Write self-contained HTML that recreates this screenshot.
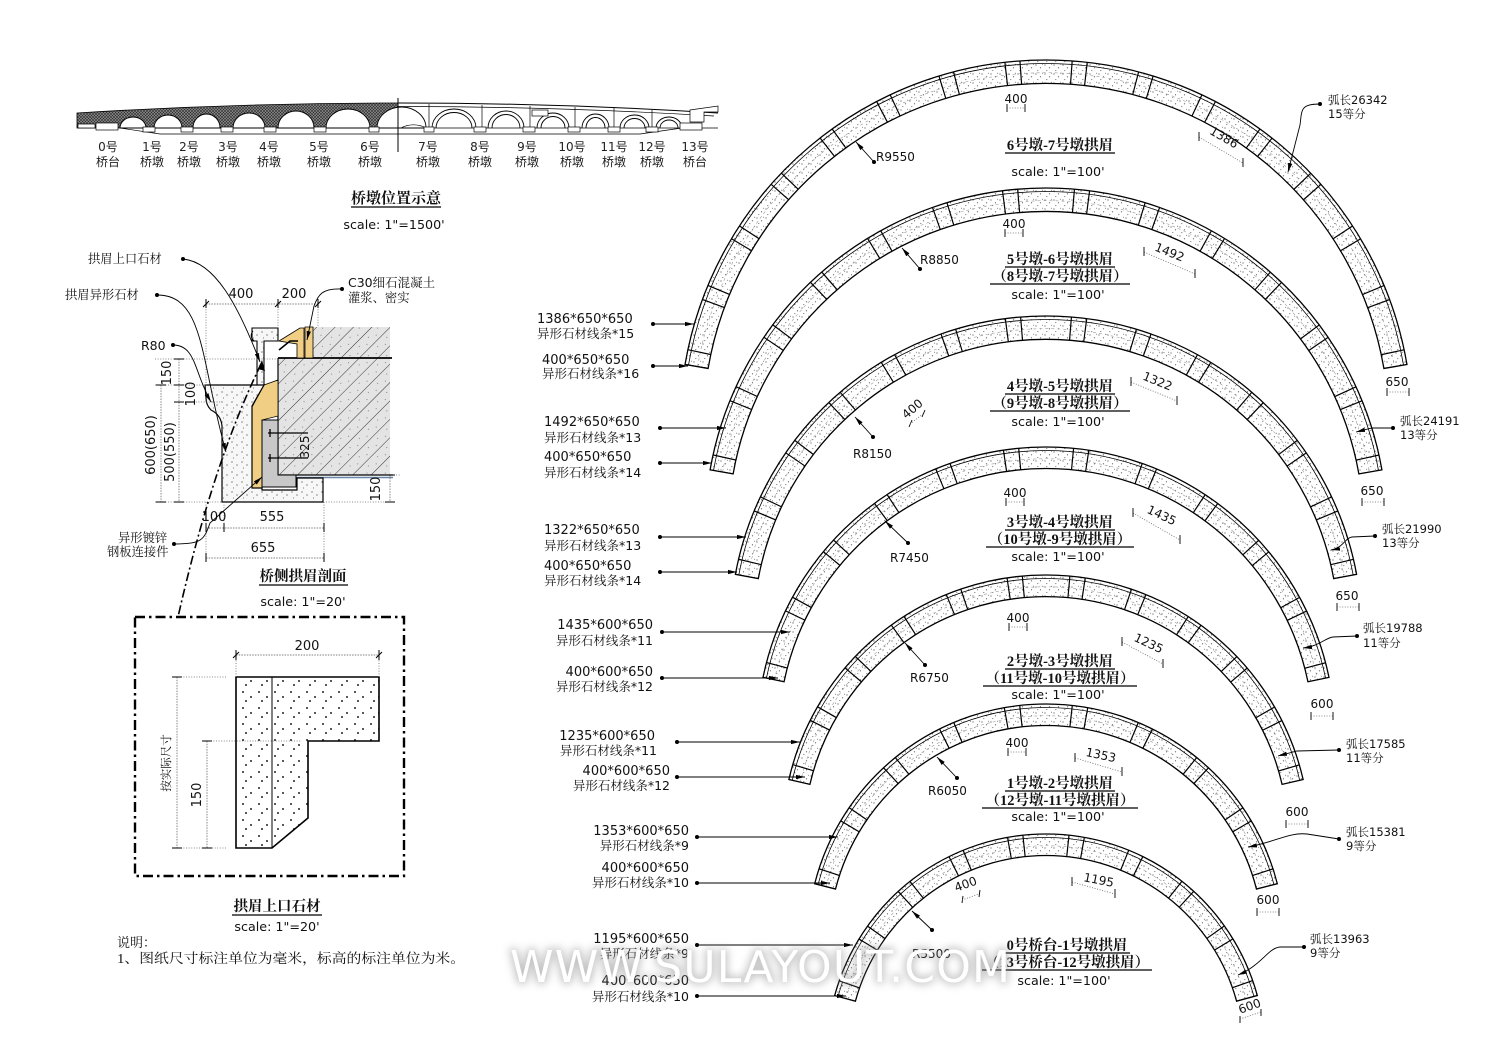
<!DOCTYPE html>
<html><head><meta charset="utf-8">
<style>
html,body{margin:0;padding:0;background:#fff;overflow:hidden;width:1500px;height:1061px}
svg{display:block}
.n{font-family:"DejaVu Sans","Noto Sans CJK SC",sans-serif;font-size:13px;fill:#111}
.c{font-family:"DejaVu Sans","Noto Serif CJK SC",serif;font-size:12.5px;fill:#111}
.s{font-family:"DejaVu Sans","Noto Sans CJK SC",sans-serif;font-size:12.7px;fill:#111}
.d{font-family:"DejaVu Sans","Noto Sans CJK SC",sans-serif;font-size:12px;fill:#111}
.r{font-family:"DejaVu Sans","Noto Serif CJK SC",serif;font-size:11.5px;fill:#111}
.t{font-family:"Liberation Serif","Noto Serif CJK SC",serif;font-weight:bold;font-size:14.5px;fill:#111}
.e{font-family:"DejaVu Sans","Noto Sans CJK SC",sans-serif;font-size:12px;fill:#222}
.l{font-family:"Liberation Serif","Noto Serif CJK SC",serif;font-size:12.3px;fill:#111}
.k{stroke:#000;fill:none}
.dt{stroke:#666;stroke-width:0.8;stroke-dasharray:1 1.6;fill:none}
.wm{font-family:"DejaVu Sans","Liberation Sans",sans-serif;font-size:44px}
</style></head>
<body>
<svg width="1500" height="1061" viewBox="0 0 1500 1061" xmlns="http://www.w3.org/2000/svg">
<defs>
<pattern id="dots" width="9" height="9" patternUnits="userSpaceOnUse">
<circle cx="1" cy="2" r="0.6" fill="#555"/><circle cx="5.5" cy="4.8" r="0.6" fill="#555"/><circle cx="2.8" cy="7.6" r="0.55" fill="#666"/><circle cx="7.6" cy="1.2" r="0.5" fill="#666"/>
</pattern>
<pattern id="sd" width="10" height="10" patternUnits="userSpaceOnUse">
<rect width="10" height="10" fill="#f7f7f7"/><circle cx="2" cy="2" r="0.6" fill="#444"/><circle cx="7" cy="5" r="0.6" fill="#444"/><circle cx="3.5" cy="8" r="0.5" fill="#555"/>
</pattern>
<pattern id="bd" width="16" height="16" patternUnits="userSpaceOnUse">
<circle cx="3" cy="4" r="1" fill="#222"/><circle cx="11" cy="9" r="1" fill="#222"/><circle cx="6" cy="13" r="1" fill="#222"/>
</pattern>
<pattern id="hatch" width="13" height="13" patternUnits="userSpaceOnUse" patternTransform="rotate(45)">
<rect width="13" height="13" fill="#e4e4e4"/><line x1="0" y1="0" x2="0" y2="13" stroke="#333" stroke-width="1"/><circle cx="5" cy="4" r="0.5" fill="#666"/><circle cx="9" cy="10" r="0.5" fill="#666"/>
</pattern>
<pattern id="xh" width="3" height="3" patternUnits="userSpaceOnUse">
<rect width="3" height="3" fill="#8c8c8c"/><path d="M0,0 L3,3 M3,0 L0,3" stroke="#2a2a2a" stroke-width="0.6"/>
</pattern>
<marker id="a" viewBox="0 0 10 10" refX="10" refY="5" markerWidth="9" markerHeight="9" markerUnits="userSpaceOnUse" orient="auto">
<path d="M0,2.6 L10,5 L0,7.4Z" fill="#000"/>
</marker>
<filter id="blur" x="-20%" y="-80%" width="140%" height="260%"><feGaussianBlur stdDeviation="4.5"/></filter>
<clipPath id="c1"><path d="M685.04,364.5 A366.2,366.2 0 0 1 1406.96,364.5 L1383.9,368.44 A342.8,342.8 0 0 0 708.1,368.44 Z"/></clipPath>
<clipPath id="c2"><path d="M710.08,469.87 A341.1,341.1 0 0 1 1381.92,469.87 L1358.87,473.93 A317.7,317.7 0 0 0 733.13,473.93 Z"/></clipPath>
<clipPath id="c3"><path d="M735.39,574.33 A315.9,315.9 0 0 1 1356.61,574.33 L1333.7,578.58 A292.6,292.6 0 0 0 758.3,578.58 Z"/></clipPath>
<clipPath id="c4"><path d="M763,677.39 A289,289 0 0 1 1329,677.39 L1307.94,681.75 A267.5,267.5 0 0 0 784.06,681.75 Z"/></clipPath>
<clipPath id="c5"><path d="M788.86,779.54 A263.9,263.9 0 0 1 1303.14,779.54 L1282.09,784.39 A242.3,242.3 0 0 0 809.91,784.39 Z"/></clipPath>
<clipPath id="c6"><path d="M814.69,883.74 A238.7,238.7 0 0 1 1277.31,883.74 L1256.47,889.05 A217.2,217.2 0 0 0 835.53,889.05 Z"/></clipPath>
<clipPath id="c7"><path d="M834.66,995.58 A219,219 0 0 1 1257.34,995.58 L1236.59,1001.22 A197.5,197.5 0 0 0 855.41,1001.22 Z"/></clipPath>
</defs>
<rect width="1500" height="1061" fill="#fff"/>

<!-- ================= ELEVATION ================= -->
<g>
<path d="M77,113 Q237.5,103 398,103 L398,128 L77,128 Z" fill="url(#xh)" stroke="#000" stroke-width="0.8"/>
<g fill="#fff" stroke="#000" stroke-width="0.9">
<path d="M120,128 A13,11 0 0 1 146,128Z"/>
<path d="M154,128 A14,13 0 0 1 182,128Z"/>
<path d="M193,128 A13.5,14 0 0 1 220,128Z"/>
<path d="M233,128 A16,15 0 0 1 265,128Z"/>
<path d="M278,128 A18,17 0 0 1 314,128Z"/>
<path d="M326,128 A22,19 0 0 1 370,128Z"/>
<path d="M377,128 A24.5,21 0 0 1 426,128Z"/>
</g>
<path d="M398,103 Q558.5,103 718,113" class="k" stroke-width="1"/>
<path d="M398,106.5 Q558.5,106.5 714,116" class="k" stroke-width="0.7"/>
<g class="k" stroke-width="0.9">
<path d="M432,128 A22,19 0 0 1 476,128"/><path d="M436,128 A18,15.5 0 0 1 472,128"/>
<path d="M488,128 A18,17 0 0 1 524,128"/><path d="M492,128 A14,13.5 0 0 1 520,128"/>
<path d="M537,128 A16,15 0 0 1 569,128"/><path d="M541,128 A12,11.5 0 0 1 565,128"/>
<path d="M582,128 A13.5,14 0 0 1 609,128"/><path d="M586,128 A9.5,10.5 0 0 1 605,128"/>
<path d="M620,128 A14.5,13 0 0 1 649,128"/><path d="M624,128 A10.5,9.5 0 0 1 645,128"/>
<path d="M656,128 A13,11 0 0 1 682,128"/><path d="M660,128 A9,8 0 0 1 678,128"/>
<path d="M401,128 A22,18 0 0 1 426,128" stroke-width="0.7"/>
</g>
<g stroke="#000" stroke-width="0.7">
<line x1="429" y1="104" x2="429" y2="128"/><line x1="482" y1="105" x2="482" y2="128"/><line x1="530" y1="106" x2="530" y2="128"/>
<line x1="575" y1="107" x2="575" y2="128"/><line x1="614" y1="108" x2="614" y2="128"/><line x1="652" y1="110" x2="652" y2="128"/>
<line x1="398" y1="98" x2="398" y2="152" stroke-width="1"/><line x1="392" y1="128" x2="404" y2="128"/>
<line x1="398" y1="128" x2="718" y2="128"/>
<path d="M120,128 L160,134 H640 L682,128" fill="none"/>
<rect x="532" y="110" width="16" height="6" fill="#fff"/>
<path d="M690,110 L718,106 V112 H704 V122 H690 Z" fill="#fff"/>
<path d="M78,124 H95 V128 H78 Z" fill="#fff"/>
</g>
<g fill="#fff" stroke="#000" stroke-width="0.7">
<rect x="96" y="123" width="22" height="7"/><rect x="143" y="127" width="12" height="5"/><rect x="181" y="127" width="12" height="5"/>
<rect x="221" y="127" width="12" height="5"/><rect x="264" y="127" width="12" height="5"/><rect x="314" y="127" width="12" height="5"/>
<rect x="369" y="127" width="10" height="5"/><rect x="424" y="127" width="10" height="5"/><rect x="474" y="127" width="12" height="5"/>
<rect x="523" y="127" width="12" height="5"/><rect x="568" y="127" width="12" height="5"/><rect x="608" y="127" width="12" height="5"/>
<rect x="646" y="127" width="12" height="5"/><rect x="680" y="123" width="22" height="7"/>
</g>
<g class="e" text-anchor="middle">
<text x="108" y="151">0号</text><text x="108" y="166">桥台</text>
<text x="152" y="151">1号</text><text x="152" y="166">桥墩</text>
<text x="189" y="151">2号</text><text x="189" y="166">桥墩</text>
<text x="228" y="151">3号</text><text x="228" y="166">桥墩</text>
<text x="269" y="151">4号</text><text x="269" y="166">桥墩</text>
<text x="319" y="151">5号</text><text x="319" y="166">桥墩</text>
<text x="370" y="151">6号</text><text x="370" y="166">桥墩</text>
<text x="428" y="151">7号</text><text x="428" y="166">桥墩</text>
<text x="480" y="151">8号</text><text x="480" y="166">桥墩</text>
<text x="527" y="151">9号</text><text x="527" y="166">桥墩</text>
<text x="572" y="151">10号</text><text x="572" y="166">桥墩</text>
<text x="614" y="151">11号</text><text x="614" y="166">桥墩</text>
<text x="652" y="151">12号</text><text x="652" y="166">桥墩</text>
<text x="695" y="151">13号</text><text x="695" y="166">桥台</text>
</g>
<text class="t" x="396" y="203" text-anchor="middle" style="font-size:15px">桥墩位置示意</text>
<line x1="351" y1="207" x2="441" y2="207" stroke="#000" stroke-width="1.2"/>
<text class="s" x="394" y="229" text-anchor="middle">scale: 1"=1500'</text>
</g>

<!-- ================= SECTION ================= -->
<g>
<path d="M312,327 H390 V358 H312 Z" fill="url(#hatch)"/>
<path d="M278,358 H390 V475 H278 Z" fill="url(#hatch)"/>
<path d="M278,358 H392" stroke="#000" stroke-width="1.8"/>
<path d="M278,358 V475 H393" class="k" stroke-width="1.2"/>
<path d="M282,477.5 H393" stroke="#6b86a8" stroke-width="1.6"/>
<path d="M279,341 L300,328 H304 V358 H297 V344 Z" fill="#f0cf85" stroke="#000" stroke-width="0.8"/>
<path d="M305,327 H313 V358 H305 Z" fill="#f0cf85" stroke="#000" stroke-width="0.8"/>
<path d="M252,328 H278 V341 H264 V385 H257 V341 H252 Z" fill="url(#sd)" stroke="#000" stroke-width="1.1"/>
<path d="M253,331 Q249,336 254,341" class="k" stroke-width="1"/>
<path d="M279,350 L290,341 H298" class="k" stroke-width="1.6"/>
<path d="M264,385 L278,380 V416 L262,420 V488 H252 V407 Z" fill="#f0cf85" stroke="#000" stroke-width="0.8"/>
<path d="M262,420 H278 V475 H296 V487 H262 Z" fill="#c8c8c8" stroke="#000" stroke-width="1"/>
<path d="M205,385 H264 L252,406 V488 H262 V490 H297 V478 H323 V502 H222 V426 Q221,415 211,410 Q206,405 206,398 Z" fill="url(#sd)" stroke="#000" stroke-width="1.2"/>
<g stroke="#000" stroke-width="1.3"><line x1="268" y1="433" x2="308" y2="433"/><line x1="268" y1="458" x2="308" y2="458"/>
<line x1="270" y1="429" x2="270" y2="437"/><line x1="270" y1="454" x2="270" y2="462"/></g>
<text class="d" transform="translate(309,447) rotate(-90)" text-anchor="middle">325</text>
<g>
<path d="M206,304 V385 M278,304 V327 M318,304 V327 M155,359 H278 M155,385 H206 M175,402 H222 M155,502 H222 M206,502 V562 M224,502 V531 M324,502 V562 M326,502 H396 M396,475 H400" class="dt"/>
<path d="M206,304 H318 M161,385 V502 M179,359 V502 M206,528 H324 M206,558 H324 M390,475 V502" stroke="#555" stroke-width="0.7" fill="none" stroke-dasharray="1.5 1.2"/>
<g stroke="#000" stroke-width="1">
<path d="M206,299 v9 M278,299 v9 M318,299 v9 M203,307 l6,-6 M275,307 l6,-6 M315,307 l6,-6"/>
<path d="M156,385 h10 M156,502 h10 M174,359 h10 M174,385 h10 M174,402 h10 M174,502 h10"/>
<path d="M206,523 v9 M224,523 v9 M324,523 v9 M206,553 v9 M324,553 v9 M385,475 h10 M385,502 h10"/>
</g>
<text class="n" x="241" y="298" text-anchor="middle">400</text>
<text class="n" x="294" y="298" text-anchor="middle">200</text>
<text class="n" transform="translate(171,373) rotate(-90)" text-anchor="middle">150</text>
<text class="n" transform="translate(195,394) rotate(-90)" text-anchor="middle">100</text>
<text class="n" transform="translate(155,445) rotate(-90)" text-anchor="middle">600(650)</text>
<text class="n" transform="translate(174,452) rotate(-90)" text-anchor="middle">500(550)</text>
<text class="n" transform="translate(380,489) rotate(-90)" text-anchor="middle">150</text>
<text class="n" x="214" y="521" text-anchor="middle">100</text>
<text class="n" x="272" y="521" text-anchor="middle">555</text>
<text class="n" x="263" y="552" text-anchor="middle">655</text>
</g>
<g class="k" stroke-width="0.9">
<path d="M183,259 C215,262 238,305 260,362" marker-end="url(#a)"/>
<path d="M157,295 C205,295 200,360 226,452" marker-end="url(#a)"/>
<path d="M173,345 C196,345 194,372 211,402" marker-end="url(#a)"/>
<path d="M342,289 C322,288 318,295 314,306 L307,340" marker-end="url(#a)"/>
<path d="M174,544 C202,544 204,540 210,523 L262,477" marker-end="url(#a)"/>
</g>
<g fill="#000"><circle cx="183" cy="259" r="2"/><circle cx="157" cy="295" r="2"/><circle cx="173" cy="345" r="2"/><circle cx="342" cy="289" r="2"/><circle cx="174" cy="544" r="2"/></g>
<g class="l">
<text x="88" y="263">拱眉上口石材</text>
<text x="65" y="299">拱眉异形石材</text>
<text class="n" x="141" y="350" style="font-size:12.5px">R80</text>
<text x="348" y="287" class="c">C30细石混凝土</text>
<text x="348" y="302">灌浆、密实</text>
<text x="118" y="542">异形镀锌</text>
<text x="107" y="556">钢板连接件</text>
</g>
<text class="t" x="303" y="581" text-anchor="middle">桥侧拱眉剖面</text>
<line x1="259" y1="585" x2="348" y2="585" stroke="#000" stroke-width="1.2"/>
<text class="s" x="303" y="606" text-anchor="middle">scale: 1"=20'</text>
<path d="M261,364 C238,412 208,485 178,617" class="k" stroke-width="1.6" stroke-dasharray="9 3 2 3"/>
<path d="M258,369 L262,360 L265,371" fill="#000"/>
</g>

<!-- ================= DETAIL BOX ================= -->
<g>
<rect x="135" y="617" width="269" height="259" class="k" stroke-width="2.4" stroke-dasharray="10 4 2.5 4"/>
<path d="M236,677 H379 V741 H308 V818 L272,848 H236 Z" fill="url(#bd)" stroke="#000" stroke-width="1.6"/>
<line x1="272" y1="677" x2="272" y2="848" stroke="#000" stroke-width="1"/>
<path d="M236,650 V677 M379,650 V677 M173,677 H226 M173,848 H226 M203,741 H302" class="dt"/>
<path d="M236,655 H379 M177,677 V848 M207,741 V848" stroke="#555" stroke-width="0.7" fill="none" stroke-dasharray="1.5 1.2"/>
<g stroke="#000" stroke-width="1">
<path d="M236,650 v10 M379,650 v10 M233,658 l6,-6 M376,658 l6,-6"/>
<path d="M172,677 h10 M172,848 h10 M202,741 h10 M202,848 h10"/>
</g>
<text class="n" x="307" y="650" text-anchor="middle">200</text>
<text class="l" transform="translate(170,763) rotate(-90)" text-anchor="middle" style="font-size:11.5px">按实际尺寸</text>
<text class="n" transform="translate(201,795) rotate(-90)" text-anchor="middle">150</text>
<text class="t" x="277" y="911" text-anchor="middle">拱眉上口石材</text>
<line x1="232" y1="915" x2="322" y2="915" stroke="#000" stroke-width="1.2"/>
<text class="s" x="277" y="931" text-anchor="middle">scale: 1"=20'</text>
<text class="l" x="117" y="947" style="font-size:13px">说明：</text>
<text class="l" x="117" y="963" style="font-size:13.5px" textLength="348" lengthAdjust="spacingAndGlyphs">1、图纸尺寸标注单位为毫米，标高的标注单位为米。</text>
</g>

<!-- ================= ARCS ================= -->
<g>
<!-- arc 1 -->
<path d="M685.04,364.5 A366.2,366.2 0 0 1 1406.96,364.5 L1383.9,368.44 A342.8,342.8 0 0 0 708.1,368.44 Z" fill="url(#dots)"/>
<g clip-path="url(#c1)" fill="none" stroke="#000">
<path d="M688.49,365.09 A362.7,362.7 0 0 1 1403.51,365.09" stroke-width="0.8"/>
<path d="M697.56,366.64 A353.5,353.5 0 0 1 1394.44,366.64" stroke="#999" stroke-width="0.6" stroke-dasharray="3 3"/>
<path d="M696.57,366.47 A354.5,354.5 0 0 1 1395.43,366.47" stroke-width="30" stroke-dasharray="1.2 13.42 1.2 49.45" stroke-dashoffset="0.6"/>
</g>
<path d="M685.04,364.5 A366.2,366.2 0 0 1 1406.96,364.5 L1383.9,368.44 A342.8,342.8 0 0 0 708.1,368.44 Z" fill="none" stroke="#000" stroke-width="1.3"/>
<!-- arc 2 -->
<path d="M710.08,469.87 A341.1,341.1 0 0 1 1381.92,469.87 L1358.87,473.93 A317.7,317.7 0 0 0 733.13,473.93 Z" fill="url(#dots)"/>
<g clip-path="url(#c2)" fill="none" stroke="#000">
<path d="M713.53,470.48 A337.6,337.6 0 0 1 1378.47,470.48" stroke-width="0.8"/>
<path d="M722.59,472.07 A328.4,328.4 0 0 1 1369.41,472.07" stroke="#999" stroke-width="0.6" stroke-dasharray="3 3"/>
<path d="M721.6,471.9 A329.4,329.4 0 0 1 1370.4,471.9" stroke-width="30" stroke-dasharray="1.2 13.52 1.2 53.71" stroke-dashoffset="0.6"/>
</g>
<path d="M710.08,469.87 A341.1,341.1 0 0 1 1381.92,469.87 L1358.87,473.93 A317.7,317.7 0 0 0 733.13,473.93 Z" fill="none" stroke="#000" stroke-width="1.3"/>
<!-- arc 3 -->
<path d="M735.39,574.33 A315.9,315.9 0 0 1 1356.61,574.33 L1333.7,578.58 A292.6,292.6 0 0 0 758.3,578.58 Z" fill="url(#dots)"/>
<g clip-path="url(#c3)" fill="none" stroke="#000">
<path d="M738.83,574.97 A312.4,312.4 0 0 1 1353.17,574.97" stroke-width="0.8"/>
<path d="M747.83,576.64 A303.25,303.25 0 0 1 1344.17,576.64" stroke="#999" stroke-width="0.6" stroke-dasharray="3 3"/>
<path d="M746.85,576.45 A304.25,304.25 0 0 1 1345.15,576.45" stroke-width="30" stroke-dasharray="1.2 13.62 1.2 47.78" stroke-dashoffset="0.6"/>
</g>
<path d="M735.39,574.33 A315.9,315.9 0 0 1 1356.61,574.33 L1333.7,578.58 A292.6,292.6 0 0 0 758.3,578.58 Z" fill="none" stroke="#000" stroke-width="1.3"/>
<!-- arc 4 -->
<path d="M763,677.39 A289,289 0 0 1 1329,677.39 L1307.94,681.75 A267.5,267.5 0 0 0 784.06,681.75 Z" fill="url(#dots)"/>
<g clip-path="url(#c4)" fill="none" stroke="#000">
<path d="M766.43,678.1 A285.5,285.5 0 0 1 1325.57,678.1" stroke-width="0.8"/>
<path d="M774.51,679.78 A277.25,277.25 0 0 1 1317.49,679.78" stroke="#999" stroke-width="0.6" stroke-dasharray="3 3"/>
<path d="M773.53,679.57 A278.25,278.25 0 0 1 1318.47,679.57" stroke-width="30" stroke-dasharray="1.2 13.58 1.2 51.82" stroke-dashoffset="0.6"/>
</g>
<path d="M763,677.39 A289,289 0 0 1 1329,677.39 L1307.94,681.75 A267.5,267.5 0 0 0 784.06,681.75 Z" fill="none" stroke="#000" stroke-width="1.3"/>
<!-- arc 5 -->
<path d="M788.86,779.54 A263.9,263.9 0 0 1 1303.14,779.54 L1282.09,784.39 A242.3,242.3 0 0 0 809.91,784.39 Z" fill="url(#dots)"/>
<g clip-path="url(#c5)" fill="none" stroke="#000">
<path d="M792.27,780.32 A260.4,260.4 0 0 1 1299.73,780.32" stroke-width="0.8"/>
<path d="M800.36,782.19 A252.1,252.1 0 0 1 1291.64,782.19" stroke="#999" stroke-width="0.6" stroke-dasharray="3 3"/>
<path d="M799.39,781.97 A253.1,253.1 0 0 1 1292.61,781.97" stroke-width="30" stroke-dasharray="1.2 13.6 1.2 44.5" stroke-dashoffset="0.6"/>
</g>
<path d="M788.86,779.54 A263.9,263.9 0 0 1 1303.14,779.54 L1282.09,784.39 A242.3,242.3 0 0 0 809.91,784.39 Z" fill="none" stroke="#000" stroke-width="1.3"/>
<!-- arc 6 -->
<path d="M814.69,883.74 A238.7,238.7 0 0 1 1277.31,883.74 L1256.47,889.05 A217.2,217.2 0 0 0 835.53,889.05 Z" fill="url(#dots)"/>
<g clip-path="url(#c6)" fill="none" stroke="#000">
<path d="M818.09,884.61 A235.2,235.2 0 0 1 1273.91,884.61" stroke-width="0.8"/>
<path d="M826.08,886.64 A226.95,226.95 0 0 1 1265.92,886.64" stroke="#999" stroke-width="0.6" stroke-dasharray="3 3"/>
<path d="M825.11,886.4 A227.95,227.95 0 0 1 1266.89,886.4" stroke-width="30" stroke-dasharray="1.2 13.69 1.2 49.17" stroke-dashoffset="0.6"/>
</g>
<path d="M814.69,883.74 A238.7,238.7 0 0 1 1277.31,883.74 L1256.47,889.05 A217.2,217.2 0 0 0 835.53,889.05 Z" fill="none" stroke="#000" stroke-width="1.3"/>
<!-- arc 7 -->
<path d="M834.66,995.58 A219,219 0 0 1 1257.34,995.58 L1236.59,1001.22 A197.5,197.5 0 0 0 855.41,1001.22 Z" fill="url(#dots)"/>
<g clip-path="url(#c7)" fill="none" stroke="#000">
<path d="M838.04,996.5 A215.5,215.5 0 0 1 1253.96,996.5" stroke-width="0.8"/>
<path d="M846,998.66 A207.25,207.25 0 0 1 1246,998.66" stroke="#999" stroke-width="0.6" stroke-dasharray="3 3"/>
<path d="M845.03,998.4 A208.25,208.25 0 0 1 1247.03,998.4" stroke-width="30" stroke-dasharray="1.2 13.54 1.2 42.83" stroke-dashoffset="0.6"/>
</g>
<path d="M834.66,995.58 A219,219 0 0 1 1257.34,995.58 L1236.59,1001.22 A197.5,197.5 0 0 0 855.41,1001.22 Z" fill="none" stroke="#000" stroke-width="1.3"/>
</g>

<!-- ===== left leaders ===== -->
<g stroke="#000" stroke-width="0.9">
<line x1="653" y1="324" x2="694" y2="324" marker-end="url(#a)"/>
<line x1="653" y1="366" x2="688" y2="366" marker-end="url(#a)"/>
<line x1="660" y1="428" x2="726" y2="428" marker-end="url(#a)"/>
<line x1="660" y1="463" x2="712" y2="463" marker-end="url(#a)"/>
<line x1="660" y1="537" x2="746" y2="537" marker-end="url(#a)"/>
<line x1="660" y1="572" x2="737" y2="572" marker-end="url(#a)"/>
<line x1="662" y1="632" x2="790" y2="632" marker-end="url(#a)"/>
<line x1="662" y1="678" x2="778" y2="678" marker-end="url(#a)"/>
<line x1="677" y1="742" x2="800" y2="742" marker-end="url(#a)"/>
<line x1="677" y1="777" x2="805" y2="777" marker-end="url(#a)"/>
<line x1="697" y1="837" x2="838" y2="837" marker-end="url(#a)"/>
<line x1="697" y1="883" x2="830" y2="883" marker-end="url(#a)"/>
<line x1="697" y1="945" x2="853" y2="945" marker-end="url(#a)"/>
<line x1="697" y1="996" x2="846" y2="996" marker-end="url(#a)"/>
</g>
<g fill="#000">
<circle cx="653" cy="324" r="2"/><circle cx="653" cy="366" r="2"/><circle cx="660" cy="428" r="2"/><circle cx="660" cy="463" r="2"/>
<circle cx="660" cy="537" r="2"/><circle cx="660" cy="572" r="2"/><circle cx="662" cy="632" r="2"/><circle cx="662" cy="678" r="2"/>
<circle cx="677" cy="742" r="2"/><circle cx="677" cy="777" r="2"/><circle cx="697" cy="837" r="2"/><circle cx="697" cy="883" r="2"/>
<circle cx="697" cy="945" r="2"/><circle cx="697" cy="996" r="2"/>
</g>
<g>
<text class="n" x="537" y="323">1386*650*650</text><text class="c" x="537" y="338">异形石材线条*15</text>
<text class="n" x="542" y="364">400*650*650</text><text class="c" x="542" y="378">异形石材线条*16</text>
<text class="n" x="544" y="426">1492*650*650</text><text class="c" x="544" y="442">异形石材线条*13</text>
<text class="n" x="544" y="461">400*650*650</text><text class="c" x="544" y="477">异形石材线条*14</text>
<text class="n" x="544" y="534">1322*650*650</text><text class="c" x="544" y="550">异形石材线条*13</text>
<text class="n" x="544" y="570">400*650*650</text><text class="c" x="544" y="585">异形石材线条*14</text>
<text class="n" x="653" y="629" text-anchor="end">1435*600*650</text><text class="c" x="653" y="645" text-anchor="end">异形石材线条*11</text>
<text class="n" x="653" y="676" text-anchor="end">400*600*650</text><text class="c" x="653" y="691" text-anchor="end">异形石材线条*12</text>
<text class="n" x="655" y="740" text-anchor="end">1235*600*650</text><text class="c" x="657" y="755" text-anchor="end">异形石材线条*11</text>
<text class="n" x="670" y="775" text-anchor="end">400*600*650</text><text class="c" x="670" y="790" text-anchor="end">异形石材线条*12</text>
<text class="n" x="689" y="835" text-anchor="end">1353*600*650</text><text class="c" x="689" y="850" text-anchor="end">异形石材线条*9</text>
<text class="n" x="689" y="872" text-anchor="end">400*600*650</text><text class="c" x="689" y="887" text-anchor="end">异形石材线条*10</text>
<text class="n" x="689" y="943" text-anchor="end">1195*600*650</text><text class="c" x="689" y="958" text-anchor="end">异形石材线条*9</text>
<text class="n" x="689" y="985" text-anchor="end">400*600*650</text><text class="c" x="689" y="1001" text-anchor="end">异形石材线条*10</text>
</g>

<!-- ===== right labels ===== -->
<g class="k" stroke-width="0.9">
<path d="M1320,104 C1300,104 1302,110 1300,125 L1288,172" marker-end="url(#a)"/>
<path d="M1393,428 L1372,428 L1356,432" marker-end="url(#a)"/>
<path d="M1375,536 L1352,537 C1345,538 1343,548 1331,550" marker-end="url(#a)"/>
<path d="M1357,636 L1333,637 C1325,638 1320,646 1303,648" marker-end="url(#a)"/>
<path d="M1339,750 L1297,751 L1278,756" marker-end="url(#a)"/>
<path d="M1339,839 L1307,834 C1290,832 1275,842 1248,847" marker-end="url(#a)"/>
<path d="M1304,947 L1280,947 C1268,948 1262,965 1238,975" marker-end="url(#a)"/>
</g>
<g fill="#000">
<circle cx="1320" cy="104" r="2"/><circle cx="1393" cy="428" r="2"/><circle cx="1375" cy="536" r="2"/><circle cx="1357" cy="636" r="2"/>
<circle cx="1339" cy="750" r="2"/><circle cx="1339" cy="839" r="2"/><circle cx="1304" cy="947" r="2"/>
</g>
<g class="r">
<text x="1328" y="104">弧长26342</text><text x="1328" y="118">15等分</text>
<text x="1400" y="425">弧长24191</text><text x="1400" y="439">13等分</text>
<text x="1382" y="533">弧长21990</text><text x="1382" y="547">13等分</text>
<text x="1363" y="632">弧长19788</text><text x="1363" y="647">11等分</text>
<text x="1346" y="748">弧长17585</text><text x="1346" y="762">11等分</text>
<text x="1346" y="836">弧长15381</text><text x="1346" y="850">9等分</text>
<text x="1310" y="943">弧长13963</text><text x="1310" y="957">9等分</text>
</g>
<g class="d" text-anchor="middle">
<text x="1397" y="386">650</text><text x="1372" y="495">650</text><text x="1347" y="600">650</text>
<text x="1322" y="708">600</text><text x="1297" y="816">600</text><text x="1268" y="904">600</text>
<text transform="translate(1251,1010) rotate(-20)">600</text>
</g>
<g stroke="#000" stroke-width="0.9" fill="none">
<path d="M1387,388 v8 M1409,388 v8 M1362,498 v8 M1384,498 v8 M1337,603 v8 M1359,603 v8 M1311,712 v8 M1333,712 v8 M1286,820 v8 M1308,820 v8 M1257,908 v8 M1279,908 v8 M1240,1016 v7 M1261,1009 v7"/>
</g>
<path d="M1387,392 H1409 M1362,502 H1384 M1337,607 H1359 M1311,716 H1333 M1286,824 H1308 M1257,912 H1279 M1240,1019 L1261,1012" class="dt"/>

<!-- ===== center labels ===== -->
<g class="d" text-anchor="middle">
<text x="1016" y="103">400</text><text x="1014" y="228">400</text><text x="1015" y="497">400</text>
<text x="1018" y="622">400</text><text x="1017" y="747">400</text>
<text transform="translate(915,412) rotate(-40)">400</text>
<text transform="translate(967,888) rotate(-20)">400</text>
</g>
<g stroke="#000" stroke-width="0.9" fill="none">
<path d="M1007,104 v8 M1025,104 v8 M1005,229 v8 M1023,229 v8 M1006,498 v8 M1024,498 v8 M1009,623 v8 M1027,623 v8 M1008,748 v8 M1026,748 v8"/>
<path d="M912,420 l-3,7 M925,410 l-3,7 M963,896 l-1,7 M980,890 l-1,7"/>
</g>
<path d="M1007,108 H1025 M1005,233 H1023 M1006,502 H1024 M1009,627 H1027 M1008,752 H1026 M910,424 L923,414 M962,900 L979,894" class="dt"/>
<g class="d" text-anchor="middle">
<text transform="translate(1222,141) rotate(30)">1386</text>
<text transform="translate(1168,256) rotate(22)">1492</text>
<text transform="translate(1156,385) rotate(22)">1322</text>
<text transform="translate(1160,519) rotate(25)">1435</text>
<text transform="translate(1147,647) rotate(25)">1235</text>
<text transform="translate(1100,759) rotate(12)">1353</text>
<text transform="translate(1098,884) rotate(11)">1195</text>
</g>
<path d="M1199,137 L1243,163 M1144,252 L1195,274 M1131,382 L1177,401 M1133,513 L1180,540 M1122,642 L1163,664 M1075,758 L1122,772 M1072,882 L1115,894" class="dt"/>
<g stroke="#000" stroke-width="0.9">
<path d="M1199,132 v9 M1243,158 v9 M1144,247 v9 M1195,269 v9 M1131,377 v9 M1177,396 v9 M1133,508 v9 M1180,535 v9 M1122,637 v9 M1163,659 v9 M1075,753 v9 M1122,767 v9 M1072,877 v9 M1115,889 v9"/>
</g>
<g class="k" stroke-width="0.9">
<line x1="874" y1="162" x2="856" y2="142" marker-end="url(#a)"/>
<line x1="920" y1="269" x2="902" y2="248" marker-end="url(#a)"/>
<line x1="873" y1="437" x2="855" y2="417" marker-end="url(#a)"/>
<line x1="908" y1="543" x2="885" y2="521" marker-end="url(#a)"/>
<line x1="925" y1="665" x2="905" y2="643" marker-end="url(#a)"/>
<line x1="957" y1="778" x2="937" y2="757" marker-end="url(#a)"/>
<line x1="932" y1="930" x2="912" y2="911" marker-end="url(#a)"/>
</g>
<g fill="#000">
<circle cx="874" cy="162" r="2"/><circle cx="920" cy="269" r="2"/><circle cx="873" cy="437" r="2"/><circle cx="908" cy="543" r="2"/>
<circle cx="925" cy="665" r="2"/><circle cx="957" cy="778" r="2"/><circle cx="932" cy="930" r="2"/>
</g>
<g class="d">
<text x="876" y="161">R9550</text><text x="920" y="264">R8850</text><text x="853" y="458">R8150</text>
<text x="890" y="562">R7450</text><text x="910" y="682">R6750</text><text x="928" y="795">R6050</text>
<text x="912" y="958">R5500</text>
</g>
<g class="t" text-anchor="middle">
<text x="1060" y="150">6号墩-7号墩拱眉</text>
<text x="1060" y="264">5号墩-6号墩拱眉</text><text x="1060" y="281">（8号墩-7号墩拱眉）</text>
<text x="1060" y="391">4号墩-5号墩拱眉</text><text x="1060" y="408">（9号墩-8号墩拱眉）</text>
<text x="1060" y="527">3号墩-4号墩拱眉</text><text x="1060" y="544">（10号墩-9号墩拱眉）</text>
<text x="1060" y="666">2号墩-3号墩拱眉</text><text x="1060" y="683">（11号墩-10号墩拱眉）</text>
<text x="1060" y="788">1号墩-2号墩拱眉</text><text x="1060" y="805">（12号墩-11号墩拱眉）</text>
<text x="1067" y="950">0号桥台-1号墩拱眉</text><text x="1067" y="967">（13号桥台-12号墩拱眉）</text>
</g>
<g stroke="#000" stroke-width="1.2">
<line x1="1005" y1="153" x2="1115" y2="153"/>
<line x1="1005" y1="267" x2="1115" y2="267"/><line x1="990" y1="284" x2="1130" y2="284"/>
<line x1="1005" y1="394" x2="1115" y2="394"/><line x1="990" y1="411" x2="1130" y2="411"/>
<line x1="1005" y1="530" x2="1115" y2="530"/><line x1="986" y1="547" x2="1134" y2="547"/>
<line x1="1005" y1="669" x2="1115" y2="669"/><line x1="983" y1="686" x2="1137" y2="686"/>
<line x1="1005" y1="791" x2="1115" y2="791"/><line x1="982" y1="808" x2="1138" y2="808"/>
<line x1="1003" y1="953" x2="1130" y2="953"/><line x1="982" y1="970" x2="1152" y2="970"/>
</g>
<g class="s" text-anchor="middle">
<text x="1058" y="176">scale: 1"=100'</text>
<text x="1058" y="299">scale: 1"=100'</text>
<text x="1058" y="426">scale: 1"=100'</text>
<text x="1058" y="561">scale: 1"=100'</text>
<text x="1058" y="699">scale: 1"=100'</text>
<text x="1058" y="821">scale: 1"=100'</text>
<text x="1064" y="985">scale: 1"=100'</text>
</g>

<!-- ===== watermark ===== -->
<g>
<text class="wm" x="510" y="982" textLength="500" lengthAdjust="spacing" fill="#8a8a8a" stroke="#8a8a8a" stroke-width="3" filter="url(#blur)" opacity="0.6">WWW.SULAYOUT.COM</text>
<text class="wm" x="510" y="982" textLength="500" lengthAdjust="spacing" fill="#ffffff">WWW.SULAYOUT.COM</text>
</g>
</svg>
</body></html>
